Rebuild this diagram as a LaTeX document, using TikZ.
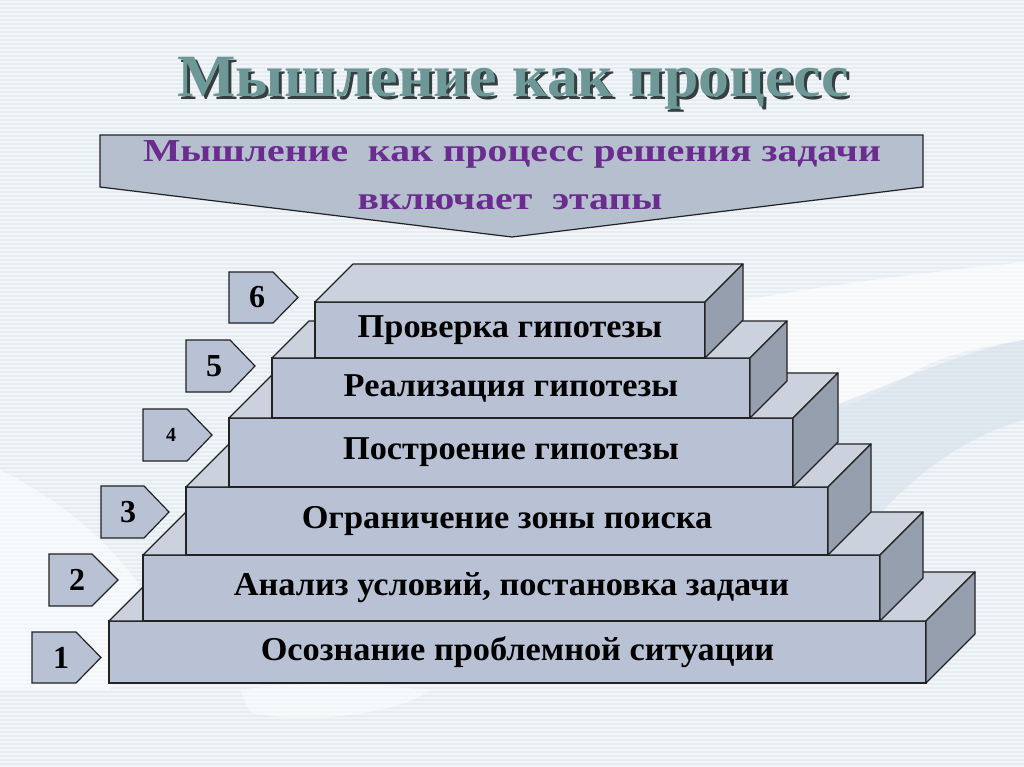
\documentclass[tikz,border=0pt]{standalone}
\usepackage{fontspec}
\setmainfont{Liberation Serif}
\newfontfamily\boxfont[FakeStretch=1.03]{Liberation Serif}
\newfontfamily\titlefont[FakeStretch=1.03]{Liberation Serif}
\newfontfamily\bannerfont[FakeStretch=1.24]{Liberation Serif}
\usetikzlibrary{calc}
\definecolor{bg}{HTML}{E6ECF2}
\definecolor{swooshblue}{HTML}{D6E1EA}
\definecolor{frontc}{HTML}{B8C2D4}
\definecolor{topc}{HTML}{CBD2DE}
\definecolor{sidec}{HTML}{959FAD}
\definecolor{edge}{HTML}{222222}
\definecolor{titlec}{HTML}{6E9898}
\definecolor{titleshadow}{HTML}{34403F}
\definecolor{purplec}{HTML}{6A2C8E}
\definecolor{bannerc}{HTML}{B6BFCE}
\tikzset{
  front/.style={draw=edge, fill=frontc, line width=0.9pt, inner sep=0pt, outer sep=0pt,
    font=\boxfont\bfseries\fontsize{25}{29}\selectfont, text=black},
  topface/.style={draw=edge, fill=topc, line width=0.9pt, line join=round},
  sideface/.style={draw=edge, fill=sidec, line width=0.9pt, line join=round},
  numtag/.style={draw=edge, fill=frontc, line width=0.9pt, line join=miter},
  numtext/.style={font=\bfseries\fontsize{24}{28}\selectfont, inner sep=0pt, text=black},
  bannerstyle/.style={draw=edge, fill=bannerc, line width=0.9pt},
  bannertext/.style={font=\bannerfont\bfseries\fontsize{24}{28}\selectfont, text=purplec, inner sep=0pt, anchor=base},
  titletext/.style={font=\titlefont\bfseries\fontsize{45}{50}\selectfont, inner sep=0pt, anchor=base}
}
\newcommand\shadowed[1]{\makebox[0pt][l]{\hspace{2.2pt}\raisebox{-2.2pt}{\textcolor{titleshadow}{#1}}}\textcolor{titlec}{#1}}
\newcommand\boxfaces[2]{%
  \filldraw[topface] (#1.north west) -- ++(#2,-#2) -- ($(#1.north east)+(#2,-#2)$) -- (#1.north east) -- cycle;
  \filldraw[sideface] (#1.north east) -- ++(#2,-#2) -- ($(#1.south east)+(#2,-#2)$) -- (#1.south east) -- cycle;}
\begin{document}
\begin{tikzpicture}[x=0.75pt,y=-0.75pt]
\useasboundingbox (0,0) rectangle (1024,767);
% background
\fill[bg] (0,0) rectangle (1024,767);
\foreach \y in {2,6,...,766} \draw[white, opacity=0.55, line width=1.1pt] (0,\y) -- (1024,\y);
\fill[white, opacity=0.6] (690,310) .. controls (820,285) and (930,272) .. (1024,262) -- (1024,340)
  .. controls (960,350) and (930,360) .. (905,378) .. controls (880,395) and (840,410) .. (790,420) -- cycle;
\fill[swooshblue, opacity=0.6] (790,420) .. controls (850,405) and (950,352) .. (1024,340) -- (1024,420)
  .. controls (950,440) and (880,500) .. (840,570) -- cycle;
\fill[white, opacity=0.55] (0,470) .. controls (60,500) and (110,540) .. (150,600) -- (110,690) -- (0,690) -- cycle;
\fill[white, opacity=0.5] (240,690) .. controls (300,680) and (380,685) .. (430,690) .. controls (400,715) and (300,725) .. (250,712) -- cycle;
% title
\node[titletext] (title) at (513,97) {\shadowed{Мышление как процесс}};
% banner
\filldraw[bannerstyle] (100,135) -- (923,135) -- (923,187) -- (512,237) -- (100,187) -- cycle;
\node[bannertext] (banner1) at (512,161) {Мышление\ \ как процесс решения задачи};
\node[bannertext] (banner2) at (510,209) {включает\ \ этапы};
% steps
\node[front, minimum width=612.75pt, minimum height=46.5pt] (s1) at (517.5,652) {Осознание проблемной ситуации};
\boxfaces{s1}{49}
\node[front, minimum width=552.75pt, minimum height=49.5pt] (s2) at (511.5,588) {Анализ условий, постановка задачи};
\boxfaces{s2}{43}
\node[front, minimum width=481.5pt, minimum height=51pt] (s3) at (507,521) {Ограничение зоны поиска};
\boxfaces{s3}{43}
\node[front, minimum width=423pt, minimum height=51.75pt] (s4) at (511,452.5) {Построение гипотезы};
\boxfaces{s4}{45}
\node[front, minimum width=358.5pt, minimum height=45pt] (s5) at (511,388) {Реализация гипотезы};
\boxfaces{s5}{37}
\node[front, minimum width=292.5pt, minimum height=42pt] (s6) at (510,330) {Проверка гипотезы};
\boxfaces{s6}{38}
% number tags
\filldraw[numtag] (229,272) -- (273,272) -- (298,297.5) -- (273,323) -- (229,323) -- cycle;
\node[numtext] (n6) at (257,297.5) {6};
\filldraw[numtag] (186,340) -- (230,340) -- (255,366) -- (230,392) -- (186,392) -- cycle;
\node[numtext] (n5) at (214,366) {5};
\filldraw[numtag] (143,409) -- (187,409) -- (212,435) -- (187,461) -- (143,461) -- cycle;
\node[numtext, font=\bfseries\fontsize{15}{18}\selectfont] (n4) at (171,435) {4};
\filldraw[numtag] (101,486) -- (144,486) -- (169,512) -- (144,538) -- (101,538) -- cycle;
\node[numtext] (n3) at (128,512) {3};
\filldraw[numtag] (49,554) -- (92,554) -- (118,580) -- (92,606) -- (49,606) -- cycle;
\node[numtext] (n2) at (77,580) {2};
\filldraw[numtag] (32,632) -- (76,632) -- (101,657.5) -- (76,683) -- (32,683) -- cycle;
\node[numtext] (n1) at (61,657.5) {1};
\end{tikzpicture}
\end{document}
